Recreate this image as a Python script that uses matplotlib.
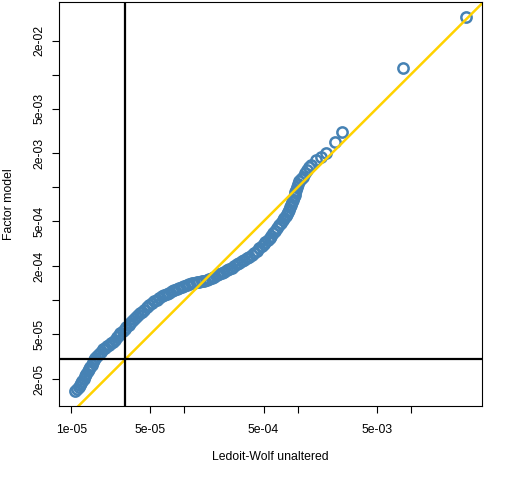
import matplotlib
matplotlib.use("Agg")
import matplotlib.pyplot as plt
import numpy as np
from matplotlib.ticker import FixedLocator, FixedFormatter, NullLocator

##############################################################################
# Data (log10 of the variances)
ledoit_wolf_log10 = [
    -4.971, -4.953, -4.936, -4.927, -4.918, -4.909, -4.892, -4.883, -4.874, -4.856,
    -4.848, -4.839, -4.821, -4.812, -4.804, -4.795, -4.777, -4.759, -4.742, -4.724,
    -4.707, -4.689, -4.671, -4.654, -4.636, -4.618, -4.601, -4.583, -4.566, -4.548,
    -4.530, -4.513, -4.495, -4.478, -4.460, -4.442, -4.425, -4.407, -4.389, -4.372,
    -4.354, -4.332, -4.310, -4.288, -4.266, -4.244, -4.222, -4.200, -4.178, -4.156,
    -4.134, -4.112, -4.090, -4.068, -4.046, -4.024, -4.002, -3.980, -3.958, -3.936,
    -3.914, -3.892, -3.870, -3.848, -3.826, -3.804, -3.782, -3.760, -3.737, -3.715,
    -3.693, -3.671, -3.649, -3.627, -3.605, -3.583, -3.561, -3.539, -3.517, -3.495,
    -3.473, -3.451, -3.429, -3.407, -3.385, -3.363, -3.341, -3.319, -3.301, -3.284,
    -3.266, -3.248, -3.231, -3.213, -3.196, -3.178, -3.160, -3.143, -3.130, -3.116,
    -3.103, -3.090, -3.081, -3.072, -3.063, -3.055, -3.046, -3.039, -3.033, -3.026,
    -3.021, -3.015, -3.006, -2.997, -2.984, -2.971, -2.953, -2.936, -2.918, -2.900,
    -2.878, -2.839, -2.795, -2.751, -2.671, -2.610, -2.072, -1.508,
]
factor_model_log10 = [
    -4.805, -4.787, -4.770, -4.752, -4.735, -4.717, -4.699, -4.673, -4.655, -4.629,
    -4.611, -4.593, -4.576, -4.549, -4.532, -4.514, -4.496, -4.479, -4.457, -4.435,
    -4.422, -4.408, -4.395, -4.382, -4.369, -4.351, -4.329, -4.311, -4.294, -4.276,
    -4.258, -4.236, -4.219, -4.201, -4.183, -4.170, -4.153, -4.135, -4.117, -4.104,
    -4.085, -4.064, -4.044, -4.024, -4.009, -3.994, -3.977, -3.964, -3.950, -3.942,
    -3.933, -3.920, -3.906, -3.897, -3.889, -3.880, -3.871, -3.863, -3.854, -3.847,
    -3.843, -3.840, -3.837, -3.834, -3.829, -3.822, -3.813, -3.802, -3.791, -3.780,
    -3.769, -3.758, -3.747, -3.736, -3.725, -3.712, -3.697, -3.683, -3.669, -3.656,
    -3.643, -3.629, -3.615, -3.597, -3.579, -3.560, -3.538, -3.518, -3.500, -3.482,
    -3.465, -3.447, -3.428, -3.405, -3.382, -3.359, -3.336, -3.313, -3.293, -3.275,
    -3.257, -3.240, -3.218, -3.196, -3.174, -3.152, -3.130, -3.108, -3.086, -3.064,
    -3.041, -3.019, -2.993, -2.967, -2.944, -2.922, -2.905, -2.874, -2.847, -2.821,
    -2.803, -2.759, -2.733, -2.693, -2.601, -2.512, -1.942, -1.489,
]

ref_level = 3e-05   # vertical and horizontal reference lines

x_ticks = [1e-05, 5e-05, 1e-04, 5e-04, 1e-03, 5e-03, 1e-02]
x_labels = ["1e-05", "5e-05", "", "5e-04", "", "5e-03", ""]
y_ticks = [2e-05, 5e-05, 1e-04, 2e-04, 5e-04, 1e-03, 2e-03, 5e-03, 1e-02, 2e-02]
y_labels = ["2e-05", "5e-05", "", "2e-04", "5e-04", "", "2e-03", "5e-03", "", "2e-02"]

##############################################################################
plt.rcParams['font.family'] = ['Liberation Sans', 'DejaVu Sans']

fig = plt.figure(figsize=(5.12, 4.8), dpi=100)
ax = fig.add_axes([59/512, 1 - 406/480, (482 - 59)/512, (406 - 2)/480])

lw = 10.0**np.array(ledoit_wolf_log10)
fm = 10.0**np.array(factor_model_log10)

ax.plot(lw, fm, linestyle="none", marker="o", markersize=7.4,
        markerfacecolor="none", markeredgecolor="#4682B4", markeredgewidth=1.8)

ax.set_xscale("log")
ax.set_yscale("log")

# R-style 4% padding around the data range, on the log scale
xl, yl = np.log10(lw), np.log10(fm)
xpad = 0.04*(xl.max() - xl.min())
ypad = 0.04*(yl.max() - yl.min())
ax.set_xlim(10**(xl.min() - xpad), 10**(xl.max() + xpad))
ax.set_ylim(10**(yl.min() - ypad), 10**(yl.max() + ypad))

# y = x line and reference lines
ax.axline((1e-05, 1e-05), (1e-02, 1e-02), color="#FFD200", linewidth=1.8)
ax.axvline(ref_level, color="black", linewidth=1.6)
ax.axhline(ref_level, color="black", linewidth=1.6)

ax.xaxis.set_major_locator(FixedLocator(x_ticks))
ax.xaxis.set_major_formatter(FixedFormatter(x_labels))
ax.yaxis.set_major_locator(FixedLocator(y_ticks))
ax.yaxis.set_major_formatter(FixedFormatter(y_labels))
ax.xaxis.set_minor_locator(NullLocator())
ax.yaxis.set_minor_locator(NullLocator())

ax.tick_params(axis="both", length=5, width=0.8, labelsize=8.8, direction="out")
ax.tick_params(axis="x", pad=8)
ax.tick_params(axis="y", pad=5)
for lab in ax.get_yticklabels():
    lab.set_rotation(90)
    lab.set_va("center")
    lab.set_ha("right")

for sp in ax.spines.values():
    sp.set_linewidth(0.8)

ax.set_xlabel("Ledoit-Wolf unaltered", fontsize=8.8, va="center")
ax.set_ylabel("Factor model", fontsize=8.8, va="center")
ax.xaxis.set_label_coords(0.5, (406 - 457.5)/404)
ax.yaxis.set_label_coords((9.5 - 59)/423, 0.5)

fig.savefig("out.png", dpi=100)
